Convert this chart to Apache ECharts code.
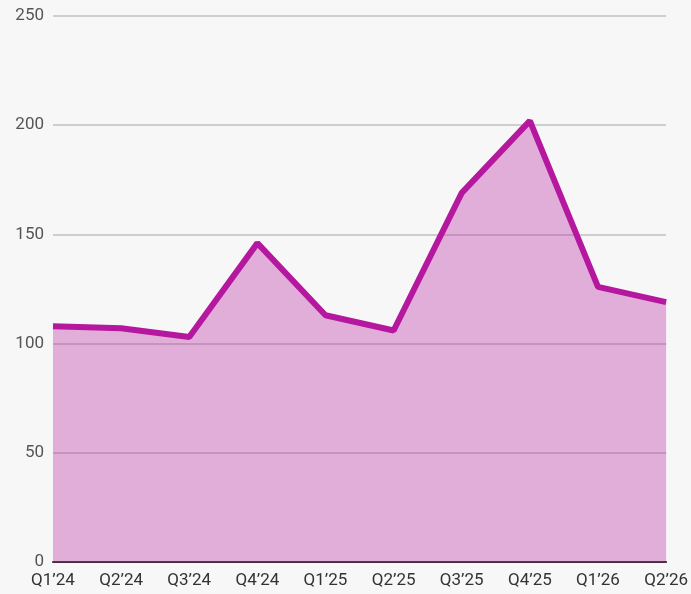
<!DOCTYPE html>
<html>
<head>
<meta charset="utf-8">
<script src="https://cdn.jsdelivr.net/npm/echarts@6/dist/echarts.min.js"></script>
<style>
  html, body { margin: 0; padding: 0; background: #f7f7f7; }
  #chart { width: 691px; height: 594px; }
</style>
</head>
<body>
<div id="chart"></div>
<script>
const quarters = ['Q1’24', 'Q2’24', 'Q3’24', 'Q4’24', 'Q1’25', 'Q2’25', 'Q3’25', 'Q4’25', 'Q1’26', 'Q2’26'];
const values = [108, 107, 103, 146, 113, 106, 169, 202, 126, 119];

const chart = echarts.init(document.getElementById('chart'));
chart.setOption({
  backgroundColor: '#f7f7f7',
  animation: false,
  grid: { top: 16, right: 23, bottom: 32, left: 53 },
  xAxis: {
    type: 'category',
    data: quarters,
    boundaryGap: false,
    axisTick: { show: false },
    axisLine: { lineStyle: { color: '#4a2a40', width: 2 } },
    axisLabel: { color: '#333', fontSize: 17, fontFamily: 'Roboto', margin: 10 }
  },
  yAxis: {
    type: 'value',
    min: 0,
    max: 250,
    interval: 50,
    axisLine: { show: false },
    axisTick: { show: false },
    axisLabel: { color: '#555', fontSize: 17, fontFamily: 'Roboto', margin: 9 },
    splitLine: { lineStyle: { color: '#c0c0c0', width: 1.5 } }
  },
  series: [{
    type: 'line',
    data: values,
    symbol: 'none',
    lineStyle: { color: '#b5179e', width: 6 },
    areaStyle: { color: '#b5179e', opacity: 0.32 }
  }]
});
</script>
</body>
</html>
